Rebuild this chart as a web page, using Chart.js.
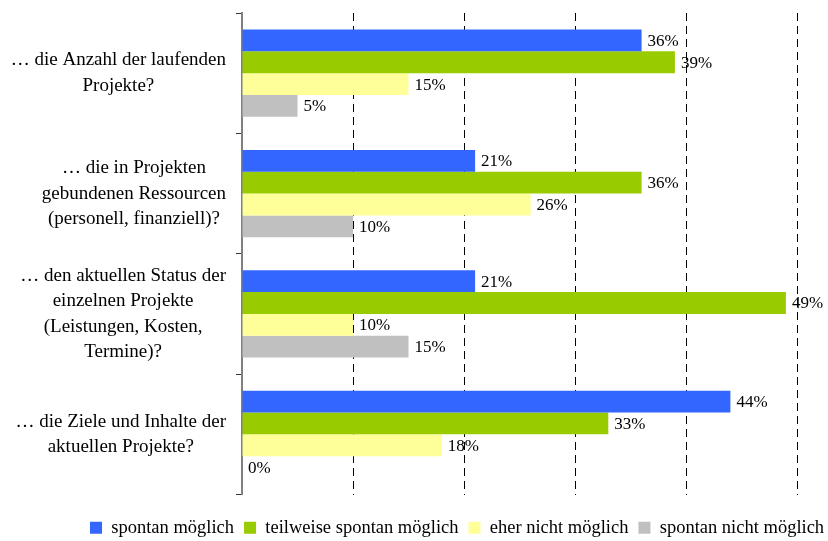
<!DOCTYPE html>
<html>
<head>
<meta charset="utf-8">
<script src="https://cdn.jsdelivr.net/npm/chart.js@4/dist/chart.umd.min.js"></script>
<style>
  html, body { margin: 0; padding: 0; background: #fff; }
  #wrap { width: 828px; height: 541px; position: relative; }
</style>
</head>
<body>
<div id="wrap"><canvas id="chart"></canvas></div>
<script>
// Categories (question texts, one array of lines each)
const questions = [
    ['… die Anzahl der laufenden', 'Projekte?'],
    ['… die in Projekten', 'gebundenen Ressourcen', '(personell, finanziell)?'],
    ['… den aktuellen Status der', 'einzelnen Projekte', '(Leistungen, Kosten,', 'Termine)?'],
    ['… die Ziele und Inhalte der', 'aktuellen Projekte?']
];

// Series names
const seriesNames = ['spontan möglich', 'teilweise spontan möglich', 'eher nicht möglich', 'spontan nicht möglich'];

// Series values (percent)
const spontan = [36, 21, 21, 44];
const teilweise = [39, 36, 49, 33];
const eherNicht = [15, 26, 10, 18];
const nicht = [5, 10, 15, 0];

const FONT = "'Liberation Serif', 'Times New Roman', serif";
Chart.defaults.font.family = FONT;
Chart.defaults.color = '#000';

// Draws the percent value right of each bar
const valueLabels = {
    id: 'valueLabels',
    afterDatasetsDraw(chart) {
        const ctx = chart.ctx;
        ctx.save();
        ctx.font = '17px ' + FONT;
        ctx.fillStyle = '#000';
        ctx.textAlign = 'left';
        ctx.textBaseline = 'middle';
        chart.data.datasets.forEach((ds, i) => {
            chart.getDatasetMeta(i).data.forEach((bar, j) => {
                ctx.fillText(ds.data[j] + '%', bar.x + 6, bar.y + 1);
            });
        });
        ctx.restore();
    }
};

// Question labels: block right-aligned to the axis, lines centred in the block
const questionLabels = {
    id: 'questionLabels',
    afterDraw(chart) {
        const ctx = chart.ctx;
        const scale = chart.scales.y;
        const lineH = 25.5;
        ctx.save();
        ctx.font = '19px ' + FONT;
        ctx.fillStyle = '#000';
        ctx.textAlign = 'center';
        ctx.textBaseline = 'middle';
        questions.forEach((lines, i) => {
            const widest = Math.max(...lines.map(l => ctx.measureText(l).width));
            const cx = scale.right - 16 - widest / 2;
            const cy = scale.getPixelForTick(i);
            const top = cy - (lines.length - 1) * lineH / 2;
            lines.forEach((l, k) => ctx.fillText(l, cx, top + k * lineH));
        });
        ctx.restore();
    }
};

// Put the legend row where it sits in the original
const legendShift = {
    id: 'legendShift',
    afterLayout(chart) {
        const lg = chart.legend;
        lg.left = 80;
        lg.right = 900;
        lg.top += 14;
        lg.bottom += 14;
    }
};

new Chart(document.getElementById('chart'), {
    type: 'bar',
    data: {
        labels: questions.map(q => q.join(' ')),
        datasets: [
            { label: seriesNames[0], data: spontan, backgroundColor: '#3366FF' },
            { label: seriesNames[1], data: teilweise, backgroundColor: '#99CC00' },
            { label: seriesNames[2], data: eherNicht, backgroundColor: '#FFFF99' },
            { label: seriesNames[3], data: nicht, backgroundColor: '#C0C0C0' }
        ]
    },
    options: {
        indexAxis: 'y',
        responsive: true,
        maintainAspectRatio: false,
        animation: false,
        datasets: {
            bar: { barPercentage: 1, categoryPercentage: 0.725, borderWidth: 0 }
        },
        layout: {
            padding: { top: 13, right: 5, bottom: 8, left: 0 }
        },
        plugins: {
            tooltip: { enabled: false },
            legend: {
                position: 'bottom',
                align: 'start',
                labels: {
                    boxWidth: 12,
                    boxHeight: 12,
                    padding: 10,
                    font: { size: 18.5 },
                    color: '#000'
                }
            }
        },
        scales: {
            x: {
                min: 0,
                max: 50,
                ticks: { display: false, stepSize: 10 },
                grid: {
                    drawTicks: false,
                    color: (c) => (c.tick && c.tick.value === 0) ? 'rgba(0,0,0,0)' : '#000',
                    lineWidth: 1
                },
                border: { display: false, dash: [8, 5] }
            },
            y: {
                ticks: { display: false },
                grid: {
                    offset: true,
                    drawOnChartArea: false,
                    drawTicks: true,
                    tickLength: 6,
                    color: '#333'
                },
                border: { display: true, color: '#808080', width: 2 },
                afterFit(scale) {
                    scale.width = 242;
                }
            },
            // empty spacer on the right, keeps room for the 49% label
            spacer: {
                type: 'linear',
                position: 'right',
                ticks: { display: false },
                grid: { display: false },
                border: { display: false },
                afterFit(scale) {
                    scale.width = 26;
                }
            }
        }
    },
    plugins: [valueLabels, questionLabels, legendShift]
});
</script>
</body>
</html>
